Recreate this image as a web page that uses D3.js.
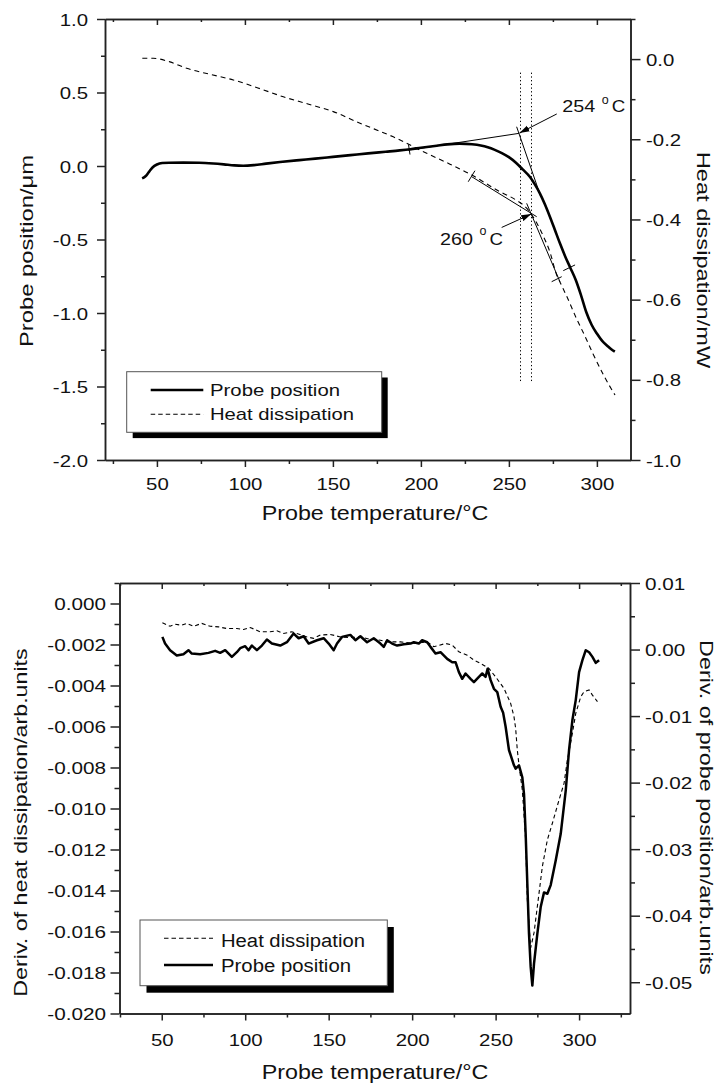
<!DOCTYPE html>
<html><head><meta charset="utf-8">
<script src="https://cdn.jsdelivr.net/npm/d3@7"></script>
<style>
body{margin:0;background:#fff}
svg text{font-family:"Liberation Sans", Arial, Helvetica, sans-serif; fill:#111}
</style>
</head><body>
<svg id="c" width="722" height="1084"></svg>
<script>
// ---------------- DATA ----------------
// Top chart: probe position (µm, left axis) vs probe temperature (°C)
const probePositionTop = [
 [41.6,-0.084],[43.5,-0.07],[45.5,-0.04],[47.5,-0.01],[50,0.01],[53,0.02],[57,0.022],[65,0.023],[74,0.022],
 [82,0.017],[88,0.011],[94,0.004],[99,0.002],[105,0.006],[112,0.016],[120,0.027],[131,0.04],[140,0.05],
 [150,0.062],[160,0.074],[170,0.086],[180,0.097],[188,0.106],[194,0.114],[200,0.124],[209,0.138],[215,0.147],
 [222,0.152],[229,0.148],[234,0.14],[238,0.128],[242,0.11],[246,0.088],[250,0.06],[254,0.022],[258,-0.025],
 [262,-0.075],[265,-0.13],[267.6,-0.186],[270.5,-0.262],[273.3,-0.345],[276,-0.43],[279,-0.526],[282,-0.615],
 [285,-0.695],[288,-0.776],[291,-0.88],[294,-0.995],[297,-1.08],[300,-1.14],[303,-1.19],[306,-1.224],
 [308,-1.245],[310.2,-1.263]
];
// Top chart: heat dissipation (mW, right axis)
const heatDissipationTop = [
 [41.7,0.002],[47.9,0.002],[57.4,-0.007],[66.9,-0.023],[80.2,-0.038],[93.4,-0.052],[107.4,-0.072],
 [121.8,-0.094],[135.8,-0.112],[150.2,-0.131],[165.4,-0.16],[184.3,-0.194],[203.3,-0.235],[216.5,-0.262],
 [228.9,-0.289],[244.9,-0.331],[253.5,-0.35],[260.1,-0.372],[264.8,-0.401],[269.5,-0.441],[273.3,-0.481],
 [277.1,-0.538],[279.0,-0.556],[283.0,-0.593],[288.5,-0.648],[293.2,-0.691],[297.9,-0.736],[304.0,-0.79],
 [310.3,-0.838]
];
// Bottom chart: derivative of heat dissipation (left axis)
const heatDerivBottom = [
 [50.4,-0.00094],[55,-0.00111],[58,-0.00101],[62,-0.00106],[65,-0.00097],[69,-0.00111],[74,-0.00097],
 [79,-0.00111],[84,-0.00114],[89,-0.00122],[95,-0.00122],[99,-0.00127],[103,-0.00117],[109,-0.00138],
 [115,-0.00138],[119,-0.00133],[123,-0.00146],[128,-0.00138],[131,-0.00146],[137,-0.00163],[141,-0.0017],
 [145,-0.00154],[151,-0.00151],[157,-0.00163],[163,-0.00166],[169,-0.00163],[175,-0.00175],[181,-0.00179],
 [185,-0.00187],[193,-0.00187],[201,-0.00195],[209,-0.00187],[213,-0.00211],[220,-0.00195],[224,-0.00203],
 [228,-0.00236],[233,-0.00252],[237,-0.00276],[241,-0.00292],[246,-0.00317],[250,-0.00358],[255,-0.00414],
 [259,-0.00487],[261,-0.00552],[262,-0.00609],[263,-0.00715],[264,-0.00788],[266,-0.0091],[268,-0.01153],
 [269,-0.01445],[271,-0.0168],[273,-0.01607],[275,-0.01478],[278,-0.01283],[281,-0.01153],[284,-0.01072],
 [288,-0.00958],[291,-0.00877],[293,-0.00763],[296,-0.00633],[298,-0.00536],[301,-0.00455],[303,-0.0043],
 [306,-0.00422],[308,-0.00447],[311,-0.00479]
];
// Bottom chart: derivative of probe position (right axis)
const probeDerivBottom = [
 [50.4,0.0019],[52,0.0009],[55,-0.0001],[59,-0.0009],[63,-0.0007],[66,-0.0001],[68,-0.0006],[73,-0.0007],
 [78,-0.0005],[82,-0.0002],[85,-0.0005],[88,-0.0001],[92,-0.0011],[95,-0.0004],[97,0.0002],[100,0.0005],
 [102,-0.0001],[104,0.0006],[107,-0.0001],[110,0.0006],[113,0.0015],[116,0.0009],[121,0.0006],[125,0.0011],
 [129,0.0024],[132,0.0017],[135,0.002],[138,0.0009],[143,0.0014],[147,0.0017],[150,0.0009],[153,-0.0001],
 [155,0.0009],[158,0.0019],[163,0.0022],[166,0.0014],[169,0.002],[173,0.0011],[177,0.0017],[181,0.0009],
 [183,0.0004],[185,0.0014],[188,0.0009],[191,0.0006],[195,0.0008],[199,0.0009],[201,0.0011],[204,0.0009],
 [206,0.0014],[209,0.0011],[211,0.0004],[214,-0.0006],[217,-0.0004],[221,-0.0014],[224,-0.0019],[226,-0.0019],
 [228,-0.0034],[230,-0.0044],[232,-0.0036],[235,-0.0044],[237,-0.0049],[240,-0.0041],[242,-0.0036],
 [244,-0.0041],[245.2,-0.0029],[247,-0.0046],[249,-0.0059],[251,-0.0064],[253,-0.0086],[254.5,-0.0095],
 [256,-0.0116],[258,-0.0151],[261,-0.0174],[262,-0.0179],[264,-0.0174],[266,-0.0192],[267,-0.0217],
 [268,-0.0277],[269,-0.0352],[270,-0.0427],[271,-0.0477],[272,-0.0505],[273,-0.0472],[275,-0.0427],
 [277,-0.0387],[279,-0.0365],[281,-0.0367],[283,-0.0354],[286,-0.0317],[289,-0.0277],[292,-0.0212],
 [294,-0.0151],[296,-0.0106],[298,-0.0076],[300,-0.0034],[302,-0.0016],[304,-0.0001],[306,-0.0004],
 [308,-0.0011],[310,-0.002],[312,-0.0016]
];

// Ticks
const xMajor = [50,100,150,200,250,300];
const xMinorTop = [25,75,125,175,225,275];
const xMinorBot = [25,75,125,175,225,275,325];
const topLeftMajor = [-2,-1.5,-1,-0.5,0,0.5,1];
const topLeftMinor = [-1.75,-1.25,-0.75,-0.25,0.25,0.75];
const topRightMajor = [-1,-0.8,-0.6,-0.4,-0.2,0];
const topRightMinor = [-0.9,-0.7,-0.5,-0.3,-0.1,0.1];
const botLeftMajor = [-0.020,-0.018,-0.016,-0.014,-0.012,-0.010,-0.008,-0.006,-0.004,-0.002,0];
const botLeftMinor = [-0.019,-0.017,-0.015,-0.013,-0.011,-0.009,-0.007,-0.005,-0.003,-0.001,0.001];
const botRightMajor = [-0.05,-0.04,-0.03,-0.02,-0.01,0,0.01];
const botRightMinor = [-0.045,-0.035,-0.025,-0.015,-0.005,0.005];

// Annotations on top chart (temperature, left-axis value)
const dottedTemps = [256.3, 262.6];
const dottedRange = [0.635, -1.463];
const tangentLines = [
 [[192.7,0.1075],[255.7,0.222]],
 [[254.4,0.267],[268.2,-0.211]],
 [[228.9,-0.073],[265.8,-0.345]],
 [[260.1,-0.254],[279.0,-0.787]]
];
const fitMarks = [
 [[192.95,0.146],[193.8,0.078]],
 [[226.9,-0.107],[230.7,-0.032]],
 [[274.3,-0.787],[280.0,-0.753]],
 [[280.9,-0.712],[287.6,-0.673]]
];
const arrows = [
 {from:[277.2,0.354], to:[256.0,0.224], label:"254", at:[280.3,0.367], oy:-8.5},
 {from:[245.9,-0.418], to:[262.7,-0.327], label:"260", at:[210.9,-0.537], oy:-10}
];

// ---------------- SCALES ----------------
const topX = d3.scaleLinear().domain([20.5,319.1]).range([105,630.5]);
const topYL = d3.scaleLinear().domain([-2,1]).range([460,19]);
const topYR = d3.scaleLinear().domain([-1.0,0.1]).range([460,19]);
const botX = d3.scaleLinear().domain([24.7,330.5]).range([119.5,630]);
const botYL = d3.scaleLinear().domain([-0.020,0.001]).range([1013.5,583]);
const botYR = d3.scaleLinear().domain([-0.0547,0.01]).range([1013.5,583]);

const svg = d3.select("#c");
const AX = "#222";
const FONT = '"Liberation Sans", Arial, Helvetica, sans-serif';

function drawAxis(orient, scale, tx, ty, major, minor, majLen, minLen, fmt, pad, k) {
  const gen = {left:d3.axisLeft, right:d3.axisRight, bottom:d3.axisBottom}[orient];
  const gm = svg.append("g").attr("transform",`translate(${tx},${ty})`)
    .call(gen(scale).tickValues(minor).tickSize(minLen).tickSizeOuter(0).tickFormat(""));
  const g = svg.append("g").attr("transform",`translate(${tx},${ty})`)
    .call(gen(scale).tickValues(major).tickSize(majLen).tickSizeOuter(0).tickFormat(fmt || (()=>"")));
  [gm,g].forEach(s => {
    s.select(".domain").attr("stroke",AX).attr("stroke-width",1.5);
    s.selectAll(".tick line").attr("stroke",AX).attr("stroke-width",1.5);
  });
  const t = g.selectAll(".tick text").attr("font-size",17).attr("font-family",FONT).attr("fill","#111");
  if (fmt) {
    if (orient==="left"||orient==="right") {
      const sgn = orient==="left" ? -1 : 1;
      t.attr("x", sgn*(majLen+pad)/k).attr("dy","0.36em").attr("transform",`scale(${k},1)`);
    } else {
      t.attr("y", pad).attr("dy",0).attr("transform",`scale(${k},1)`);
    }
  }
}

function title(txt, x, y, rot, size, len) {
  svg.append("text").attr("transform",`translate(${x},${y}) rotate(${rot})`)
    .attr("x",-len/2).attr("y",0).attr("font-size",size)
    .attr("textLength",len).attr("lengthAdjust","spacingAndGlyphs").text(txt);
}

function legend(x, y, w, h, off, items) {
  svg.append("rect").attr("x",x+off[0]).attr("y",y+off[1]).attr("width",w).attr("height",h).attr("fill","#000");
  svg.append("rect").attr("x",x).attr("y",y).attr("width",w).attr("height",h).attr("fill","#fff")
    .attr("stroke","#555").attr("stroke-width",1);
  items.forEach(it => {
    svg.append("line").attr("x1",it.x1).attr("x2",it.x2).attr("y1",it.ly).attr("y2",it.ly)
      .attr("stroke","#000").attr("stroke-width",it.dash?1.1:2.5).attr("stroke-dasharray",it.dash||null);
    svg.append("text").attr("x",it.tx).attr("y",it.ty).attr("font-size",it.fs)
      .attr("textLength",it.len).attr("lengthAdjust","spacingAndGlyphs").text(it.text);
  });
}

const fmt1 = d => d.toFixed(1);
const fmt3 = d => d.toFixed(3);
const fmt2 = d => d.toFixed(2);
const fmt0 = d => String(d);

// ---------------- TOP CHART ----------------
drawAxis("left", topYL, 105, 0, topLeftMajor, topLeftMinor, 8, 4, fmt1, 9, 1.2);
drawAxis("right", topYR, 630.5, 0, topRightMajor, topRightMinor, 10, 5, fmt1, 5.5, 1.2);
drawAxis("bottom", topX, 0, 460, xMajor, xMinorTop, 7, 4, fmt0, 30, 1.2);
drawAxis("bottom", topX, 0, 19, xMajor, xMinorTop, 6, 3, null);

// dotted verticals
dottedTemps.forEach(t => {
  const px = Math.round(topX(t)) + 0.5;
  svg.append("line").attr("x1",px).attr("x2",px).attr("y1",topYL(dottedRange[0])).attr("y2",topYL(dottedRange[1]))
    .attr("stroke","#000").attr("stroke-width",1).attr("stroke-dasharray","1.3,2.4");
});

const lineTopL = d3.line().x(d=>topX(d[0])).y(d=>topYL(d[1])).curve(d3.curveMonotoneX);
const lineTopR = d3.line().x(d=>topX(d[0])).y(d=>topYR(d[1])).curve(d3.curveMonotoneX);
svg.append("path").attr("d",lineTopR(heatDissipationTop)).attr("fill","none").attr("stroke","#000")
  .attr("stroke-width",1.1).attr("stroke-dasharray","5,4");
svg.append("path").attr("d",lineTopL(probePositionTop)).attr("fill","none").attr("stroke","#000")
  .attr("stroke-width",2.6);

// tangent lines and fit marks
tangentLines.concat(fitMarks).forEach(l => {
  svg.append("line").attr("x1",topX(l[0][0])).attr("y1",topYL(l[0][1])).attr("x2",topX(l[1][0])).attr("y2",topYL(l[1][1]))
    .attr("stroke","#000").attr("stroke-width",1);
});

// arrows
svg.append("defs").append("marker").attr("id","ah").attr("markerUnits","userSpaceOnUse")
  .attr("markerWidth",12).attr("markerHeight",8).attr("refX",10).attr("refY",4).attr("orient","auto")
  .append("path").attr("d","M0,0.8 L10,4 L0,7.2 Z").attr("fill","#000");
arrows.forEach(a => {
  svg.append("line").attr("x1",topX(a.from[0])).attr("y1",topYL(a.from[1])).attr("x2",topX(a.to[0])).attr("y2",topYL(a.to[1]))
    .attr("stroke","#000").attr("stroke-width",1).attr("marker-end","url(#ah)");
  const x0 = topX(a.at[0]), y0 = topYL(a.at[1]);
  svg.append("text").attr("x",x0).attr("y",y0).attr("font-size",17).attr("textLength",33).attr("lengthAdjust","spacingAndGlyphs").text(a.label);
  svg.append("text").attr("x",x0+39.5).attr("y",y0+a.oy).attr("font-size",12.5).text("o");
  svg.append("text").attr("x",x0+49.5).attr("y",y0).attr("font-size",17).attr("textLength",13.5).attr("lengthAdjust","spacingAndGlyphs").text("C");
});

legend(126.7, 371.7, 255, 60.6, [6,5.8], [
  {x1:150.7,x2:203.3,ly:390,tx:210,ty:396,fs:17,len:130,text:"Probe position"},
  {x1:150.7,x2:203.3,ly:414.3,tx:210,ty:420,fs:17,len:144,text:"Heat dissipation",dash:"4.5,3"}
]);

title("Probe temperature/°C", 375, 520, 0, 21, 226.6);
title("Probe position/μm", 33.3, 251, -90, 17.5, 192);
title("Heat dissipation/mW", 697, 260, 90, 18.5, 216.6);

// ---------------- BOTTOM CHART ----------------
drawAxis("left", botYL, 119.5, 0, botLeftMajor, botLeftMinor, 9, 5, fmt3, 4.5, 1.22);
drawAxis("right", botYR, 630, 0, botRightMajor, botRightMinor, 10, 5, fmt2, 5, 1.22);
drawAxis("bottom", botX, 0, 1013.5, xMajor, xMinorBot, 7, 4, fmt0, 33, 1.2);
drawAxis("bottom", botX, 0, 583, xMajor, xMinorBot, 6, 3, null);

const lineBotL = d3.line().x(d=>botX(d[0])).y(d=>botYL(d[1]));
const lineBotR = d3.line().x(d=>botX(d[0])).y(d=>botYR(d[1]));
svg.append("path").attr("d",lineBotL(heatDerivBottom)).attr("fill","none").attr("stroke","#000")
  .attr("stroke-width",1.1).attr("stroke-dasharray","4,3");
svg.append("path").attr("d",lineBotR(probeDerivBottom)).attr("fill","none").attr("stroke","#000")
  .attr("stroke-width",2.5).attr("stroke-linejoin","round");

legend(140, 920, 247.3, 65.7, [6.5,7], [
  {x1:164,x2:213,ly:938.3,tx:221,ty:946.5,fs:18,len:144,text:"Heat dissipation",dash:"4.5,3"},
  {x1:164,x2:213,ly:965,tx:221,ty:971.7,fs:18,len:130,text:"Probe position"}
]);

title("Probe temperature/°C", 375, 1079, 0, 21, 226.6);
title("Deriv. of heat dissipation/arb.units", 26.7, 822.5, -90, 18.5, 348.4);
title("Deriv. of probe position/arb.units", 700, 807.5, 90, 19, 335);
</script>
</body></html>
